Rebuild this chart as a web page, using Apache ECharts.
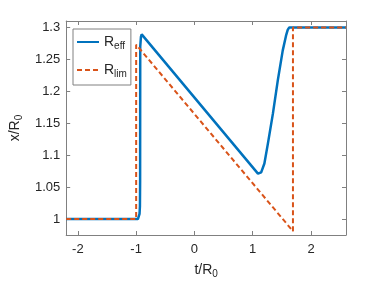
<!DOCTYPE html>
<html><head><meta charset="utf-8">
<script src="https://cdn.jsdelivr.net/npm/echarts@6/dist/echarts.min.js"></script>
<style>html,body{margin:0;padding:0;background:#fff}#c{width:382px;height:286px}</style>
</head><body><div id="c"></div>
<script>
const effT = [-2.2, -0.97, -0.952, -0.942, -0.935, -0.932, -0.93, -0.918, -0.905, 1.09, 1.118, 1.145, 1.2, 1.26, 1.346, 1.43, 1.515, 1.571, 1.6, 1.627, 1.66, 2.6];
const effV = [1, 1, 1.002, 1.008, 1.02, 1.06, 1.27, 1.285, 1.289, 1.071, 1.068, 1.073, 1.087, 1.118, 1.165, 1.217, 1.264, 1.287, 1.296, 1.3, 1.3, 1.3];
const limT = [-2.2, -1.0, -1.0, 1.69, 1.69, 2.6];
const limV = [1, 1, 1.273, 0.981, 1.3, 1.3];
const xTicks = [-2, -1, 0, 1, 2];
const yTicks = [1, 1.05, 1.1, 1.15, 1.2, 1.25, 1.3];

const zip = (a, b) => a.map((v, i) => [v, b[i]]);
const txt = '#262626', ax = '#808080';
const font = 'Liberation Sans, Arial, sans-serif';
const chart = echarts.init(document.getElementById('c'));
const xBase = {type: 'value', min: -2.2, max: 2.6, splitLine: {show: false},
  axisLine: {show: true, onZero: false, lineStyle: {color: ax, width: 1}},
  axisTick: {show: true, inside: true, length: 4, customValues: xTicks, lineStyle: {color: ax}}};
const yBase = {type: 'value', min: 0.975, max: 1.31, splitLine: {show: false},
  axisLine: {show: true, onZero: false, lineStyle: {color: ax, width: 1}},
  axisTick: {show: true, inside: true, length: 4, customValues: yTicks, lineStyle: {color: ax}}};
const sub = {
  a: {fontSize: 14, color: txt, fontFamily: font},
  b: {fontSize: 10, color: txt, fontFamily: font, verticalAlign: 'bottom', padding: [8, 0, 0, 0]}
};
chart.setOption({
  animation: false,
  grid: {left: 62, right: 36, top: 21, bottom: 51},
  legend: {
    left: 73, top: 29, orient: 'vertical', itemWidth: 22, itemHeight: 10, itemGap: 12,
    padding: [6, 4, 6, 3],
    borderColor: ax, borderWidth: 1, backgroundColor: '#fff',
    itemStyle: {color: 'rgba(0,0,0,0)', borderWidth: 0, opacity: 0},
    data: ['R_eff', 'R_lim'],
    formatter: n => n === 'R_eff' ? '{a|R}{b|eff}' : '{a|R}{b|lim}',
    textStyle: {rich: sub}
  },
  xAxis: [
    Object.assign({}, xBase, {position: 'bottom',
      axisLabel: {show: true, customValues: xTicks, color: txt, fontSize: 13, fontFamily: font, margin: 8},
      name: '{a|t/R}{b|0}', nameLocation: 'middle', nameGap: 26, nameTextStyle: {rich: sub}}),
    Object.assign({}, xBase, {position: 'top', axisLabel: {show: false}})
  ],
  yAxis: [
    Object.assign({}, yBase, {position: 'left',
      axisLabel: {show: true, customValues: yTicks, color: txt, fontSize: 13, fontFamily: font, margin: 6,
        formatter: v => String(+(+v).toFixed(2))},
      name: '{a|x/R}{b|0}', nameLocation: 'middle', nameGap: 42, nameRotate: 90, nameTextStyle: {rich: sub}}),
    Object.assign({}, yBase, {position: 'right', axisLabel: {show: false}})
  ],
  series: [
    {name: 'R_eff', type: 'line', data: zip(effT, effV), symbol: 'none', smooth: false,
      lineStyle: {color: '#0072BD', width: 2.5}, itemStyle: {color: '#0072BD'}},
    {name: 'R_lim', type: 'line', data: zip(limT, limV), symbol: 'none',
      lineStyle: {color: '#D95319', width: 2, type: [5, 3]}, itemStyle: {color: '#D95319'}}
  ]
});
</script></body></html>
